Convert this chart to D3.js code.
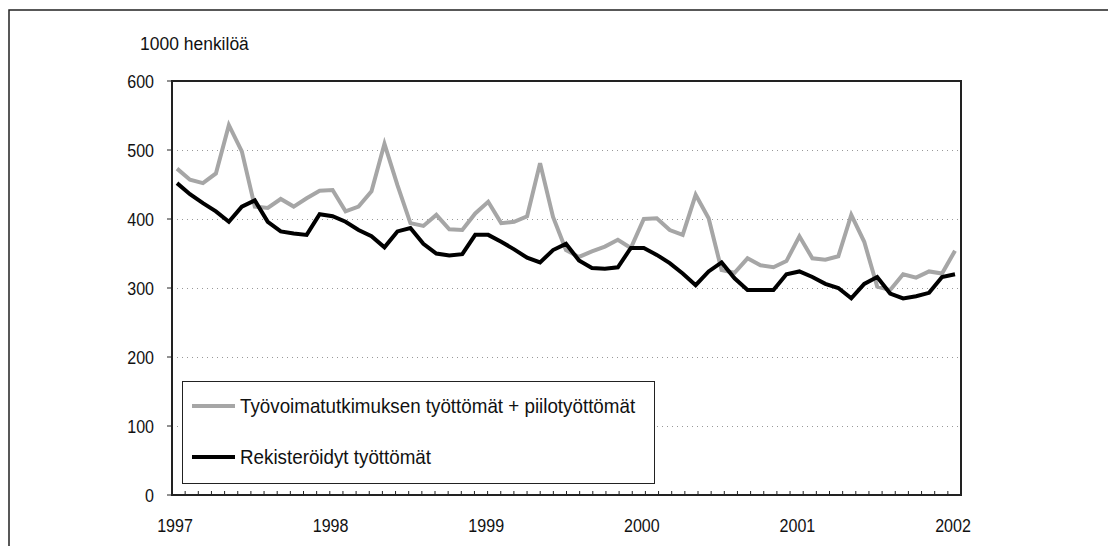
<!DOCTYPE html>
<html>
<head>
<meta charset="utf-8">
<script src="https://cdn.jsdelivr.net/npm/d3@7"></script>
<style>
	body { margin: 0; background: #ffffff; }
	text { font-family: "Liberation Sans", Arial, sans-serif; fill: #111111; }
	.axisLabel { font-size: 19px; }
	.unitLabel { font-size: 19px; }
	.legendLabel { font-size: 20px; }
</style>
</head>
<body>
<svg id="chart" width="1108" height="546"></svg>
<script>

//monthly data, Jan 1997 - Jan 2002 (1000 persons)

var years = ["1997", "1998", "1999", "2000", "2001", "2002"];
var yTicks = [0, 100, 200, 300, 400, 500, 600];

var seriesNames = ["Työvoimatutkimuksen työttömät + piilotyöttömät", "Rekisteröidyt työttömät"];

var surveyUnemployed = [
	473, 457, 452, 466, 536, 498, 418, 416, 429, 418, 430, 441,
	442, 411, 418, 440, 509, 449, 394, 390, 406, 385, 384, 408,
	425, 394, 396, 404, 481, 403, 355, 345, 353, 360, 370, 358,
	400, 401, 384, 377, 435, 401, 326, 322, 343, 333, 330, 339,
	375, 343, 341, 346, 406, 367, 302, 297, 320, 315, 324, 321,
	354
];

var registeredUnemployed = [
	452, 436, 423, 411, 396, 418, 427, 396, 382, 379, 377, 407,
	404, 396, 384, 375, 359, 382, 387, 364, 350, 347, 349, 377,
	377, 367, 356, 344, 337, 355, 364, 340, 329, 328, 330, 358,
	358, 348, 336, 321, 304, 324, 337, 314, 297, 297, 297, 320,
	324, 316, 306, 300, 285, 306, 316, 292, 285, 288, 293, 316,
	320
];

var PLOT_LEFT = 172;
var PLOT_RIGHT = 961;
var PLOT_TOP = 81;
var PLOT_BOTTOM = 495;

//the original uses a condensed face, so squeeze the text horizontally
var NARROW_DIGITS = 0.845;
var NARROW_UNIT = 0.92;
var NARROW_LEGEND = 0.94;

var svg = d3.select("#chart");

function placeText(sel, x, y, sx) {
	return sel.attr("transform", "translate(" + x + "," + y + ") scale(" + sx + ",1)");
}

//outer frame (top and left only)
svg.append("path")
	.attr("d", "M9,546 L9,10 L1108,10")
	.attr("fill", "none")
	.attr("stroke", "#222222")
	.attr("stroke-width", 1.5);

var xScale = d3.scaleLinear()
	.domain([0, surveyUnemployed.length - 1])
	.range([PLOT_LEFT + 5, PLOT_RIGHT - 6]);

//month ticks sit on their own grid
var tickScale = d3.scaleLinear()
	.domain([0, 60])
	.range([PLOT_LEFT, PLOT_RIGHT]);

var yScale = d3.scaleLinear()
	.domain([0, 600])
	.range([PLOT_BOTTOM, PLOT_TOP]);

//dotted gridlines
svg.append("g")
	.selectAll("line")
	.data(yTicks.filter(function(d) { return d > 0 && d < 600; }))
	.enter()
	.append("line")
	.attr("x1", PLOT_LEFT)
	.attr("x2", PLOT_RIGHT)
	.attr("y1", function(d) { return yScale(d) + 0.5; })
	.attr("y2", function(d) { return yScale(d) + 0.5; })
	.attr("stroke", "#999999")
	.attr("stroke-width", 1)
	.attr("stroke-dasharray", "1,4");

//y axis labels and ticks
svg.append("g")
	.selectAll("text")
	.data(yTicks)
	.enter()
	.append("text")
	.attr("class", "axisLabel")
	.attr("text-anchor", "end")
	.each(function(d) {
		placeText(d3.select(this), 154, yScale(d) + 7, NARROW_DIGITS);
	})
	.text(function(d) { return d; });

svg.append("g")
	.selectAll("line")
	.data(yTicks)
	.enter()
	.append("line")
	.attr("x1", PLOT_LEFT - 5)
	.attr("x2", PLOT_LEFT)
	.attr("y1", function(d) { return yScale(d); })
	.attr("y2", function(d) { return yScale(d); })
	.attr("stroke", "#222222")
	.attr("stroke-width", 1);

//month ticks on x axis
svg.append("g")
	.selectAll("line")
	.data(d3.range(1, 60))
	.enter()
	.append("line")
	.attr("x1", function(d) { return tickScale(d); })
	.attr("x2", function(d) { return tickScale(d); })
	.attr("y1", PLOT_BOTTOM - 4)
	.attr("y2", PLOT_BOTTOM)
	.attr("stroke", "#222222")
	.attr("stroke-width", 1);

//year labels
svg.append("g")
	.selectAll("text")
	.data(years)
	.enter()
	.append("text")
	.attr("class", "axisLabel")
	.attr("text-anchor", "middle")
	.each(function(d, i) {
		placeText(d3.select(this), xScale(i * 12) - 2, 532, NARROW_DIGITS);
	})
	.text(function(d) { return d; });

//plot frame
svg.append("rect")
	.attr("x", PLOT_LEFT)
	.attr("y", PLOT_TOP)
	.attr("width", PLOT_RIGHT - PLOT_LEFT)
	.attr("height", PLOT_BOTTOM - PLOT_TOP)
	.attr("fill", "none")
	.attr("stroke", "#222222")
	.attr("stroke-width", 2);

//lines
var line = d3.line()
	.x(function(d, i) { return xScale(i); })
	.y(function(d) { return yScale(d); });

svg.append("path")
	.datum(surveyUnemployed)
	.attr("d", line)
	.attr("fill", "none")
	.attr("stroke", "#a6a6a6")
	.attr("stroke-width", 4);

svg.append("path")
	.datum(registeredUnemployed)
	.attr("d", line)
	.attr("fill", "none")
	.attr("stroke", "#000000")
	.attr("stroke-width", 4);

//unit label
placeText(svg.append("text"), 140, 50, NARROW_UNIT)
	.attr("class", "unitLabel")
	.text("1000 henkilöä");

//legend
var legend = svg.append("g")
	.attr("transform", "translate(182,381)");

legend.append("rect")
	.attr("x", 0.5)
	.attr("y", 0.5)
	.attr("width", 472)
	.attr("height", 102)
	.attr("fill", "#ffffff")
	.attr("stroke", "#222222")
	.attr("stroke-width", 1);

var legendColors = ["#a6a6a6", "#000000"];

legend.selectAll(".legendItem")
	.data(seriesNames)
	.enter()
	.append("g")
	.attr("class", "legendItem")
	.attr("transform", function(d, i) {
		return "translate(0," + (25 + i * 51) + ")";
	})
	.each(function(d, i) {
		d3.select(this)
			.append("line")
			.attr("x1", 10)
			.attr("x2", 53)
			.attr("y1", 0)
			.attr("y2", 0)
			.attr("stroke", legendColors[i])
			.attr("stroke-width", 4);

		placeText(d3.select(this).append("text"), 58, 7, NARROW_LEGEND)
			.attr("class", "legendLabel")
			.text(d);
	});

</script>
</body>
</html>
